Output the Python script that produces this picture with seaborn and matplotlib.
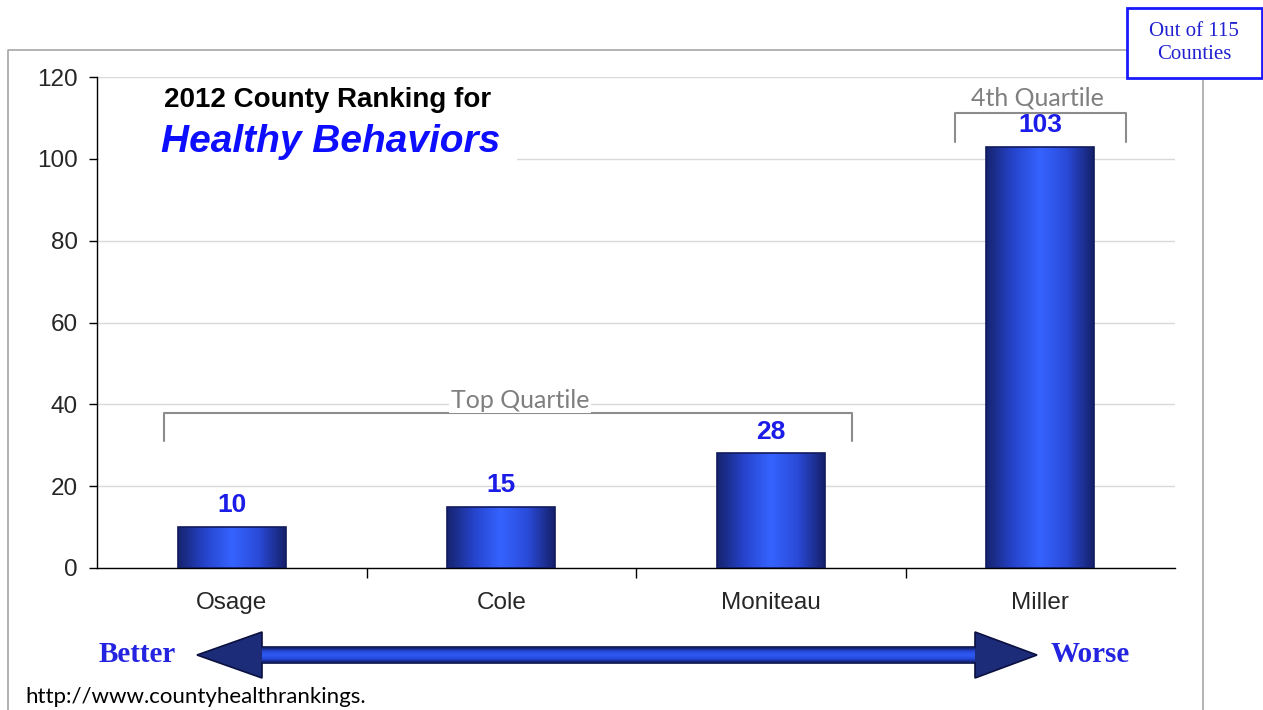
import numpy as np
import matplotlib
matplotlib.use("Agg")
import matplotlib.pyplot as plt
from matplotlib.colors import LinearSegmentedColormap
from matplotlib.patches import Rectangle, Polygon
import seaborn as sns

# data
counties = ["Osage", "Cole", "Moniteau", "Miller"]
ranks = [10, 15, 28, 103]
y_ticks = [0, 20, 40, 60, 80, 100, 120]

sns.set_style("white")
plt.rcParams["font.family"] = ["Liberation Sans", "DejaVu Sans"]

W, H = 1263, 710
fig = plt.figure(figsize=(W / 100, H / 100), dpi=100, facecolor="white")

# chart axes
ax = fig.add_axes([97 / W, 1 - 568 / H, (1175 - 97) / W, (568 - 77) / H], zorder=1)
ax.patch.set_alpha(0)

sns.barplot(x=counties, y=ranks, width=0.4, color="#2a4fe0", saturation=1,
            edgecolor="#111a5e", linewidth=1.2, ax=ax, zorder=3)

# horizontal shading on the bars
bar_cmap = LinearSegmentedColormap.from_list(
    "bar", ["#16236e", "#2644cc", "#3563ff", "#2a4ad8", "#15206a"])
grad = np.linspace(0, 1, 256).reshape(1, -1)
for p in ax.patches:
    x0, y0, w, h = p.get_x(), p.get_y(), p.get_width(), p.get_height()
    im = ax.imshow(grad, cmap=bar_cmap, extent=(x0, x0 + w, y0, y0 + h),
                   aspect="auto", zorder=2.9, interpolation="bicubic")
    im.set_clip_path(p)
    p.set_facecolor("none")

ax.bar_label(ax.containers[0], labels=[str(v) for v in ranks], padding=7,
             color="#1c1ce8", fontsize=19, fontweight="bold")

ax.set_xlim(-0.5, 3.5)
ax.set_ylim(0, 120)
ax.set_yticks(y_ticks)
ax.set_xticks(range(len(counties)))
ax.set_xticklabels(counties)
ax.set_xticks([0.5, 1.5, 2.5], minor=True)
ax.set_xlabel("")
ax.set_ylabel("")
ax.yaxis.grid(True, color="#d9d9d9", lw=1)
ax.set_axisbelow(True)
ax.tick_params(axis="y", which="major", direction="out", length=6, width=1,
               color="black", labelsize=17.5, pad=8, left=True)
ax.tick_params(axis="x", which="major", length=0, labelsize=17.5, pad=17)
ax.tick_params(axis="x", which="minor", direction="out", length=7, width=1,
               color="black", bottom=True)
sns.despine(ax=ax)
for s in ["left", "bottom"]:
    ax.spines[s].set_color("black")
    ax.spines[s].set_linewidth(1)

# quartile brackets
def bracket(x0, x1, y_top, y_end, label, tx, ty):
    ax.plot([x0, x0, x1, x1], [y_end, y_top, y_top, y_end], color="#8c8c8c",
            lw=1.5, clip_on=False, zorder=4)
    ax.text(tx, ty, label, ha="center", va="center", fontsize=18, color="#7f7f7f",
            family=["Lato", "DejaVu Sans"], clip_on=False, zorder=5,
            bbox=dict(facecolor="white", edgecolor="none", pad=1))

bracket(-0.25, 2.3, 38, 31, "Top Quartile", 1.07, 41)
bracket(2.685, 3.32, 111.3, 104.2, "4th Quartile", 2.99, 114.9)

# overlay layer in pixel coordinates
bg = fig.add_axes([0, 0, 1, 1], zorder=2)
bg.patch.set_alpha(0)
bg.axis("off")

bg.plot([8, 8, 1203, 1203], [715, 50, 50, 715], color="#a6a6a6", lw=1.2)

# title block sits on a white panel that hides the grid behind it
bg.add_patch(Rectangle((99, 80), 418, 82, facecolor="white", edgecolor="none", zorder=0.5))
bg.text(328, 100, "2012 County Ranking for", ha="center", va="center",
        fontsize=20, fontweight="bold", color="black")
bg.text(331, 142, "Healthy Behaviors", ha="center", va="center", fontsize=28,
        fontweight="bold", style="italic", color="#0d0dff")

bg.add_patch(Rectangle((1127, 8), 135, 70, facecolor="white", edgecolor="#1a1aff",
                       lw=2, zorder=5))
bg.text(1194, 43, "Out of 115\nCounties", ha="center", va="center", fontsize=15,
        family="Liberation Serif", color="#2020d0", linespacing=1.35, zorder=6)

# better / worse arrow
arrow_pts = [(197, 655), (262, 632), (262, 647), (975, 647), (975, 632), (1037, 655),
             (975, 678), (975, 663), (262, 663), (262, 678)]
arrow = Polygon(arrow_pts, closed=True, facecolor="#1d2c78", edgecolor="#0a1040",
                lw=1.2, zorder=1)
bg.add_patch(arrow)
body = Rectangle((262, 647), 713, 16, facecolor="none", edgecolor="none")
bg.add_patch(body)
arrow_cmap = LinearSegmentedColormap.from_list(
    "arrow", ["#0c1650", "#2448d8", "#2f5cf5", "#2448d8", "#0c1650"])
im = bg.imshow(np.linspace(0, 1, 64).reshape(-1, 1), cmap=arrow_cmap,
               extent=(262, 975, 663, 647), aspect="auto", interpolation="bicubic",
               zorder=2)
im.set_clip_path(body)

bg.text(137, 655, "Better", ha="center", va="center", fontsize=21, fontweight="bold",
        family="Liberation Serif", color="#2323e0")
bg.text(1090, 655, "Worse", ha="center", va="center", fontsize=21, fontweight="bold",
        family="Liberation Serif", color="#2323e0")
bg.text(25, 697, "http://www.countyhealthrankings.", ha="left", va="center",
        fontsize=16, family=["Lato", "DejaVu Sans"], color="black")

bg.set_xlim(0, W)
bg.set_ylim(H, 0)

fig.savefig("out.png", dpi=100, facecolor="white")
